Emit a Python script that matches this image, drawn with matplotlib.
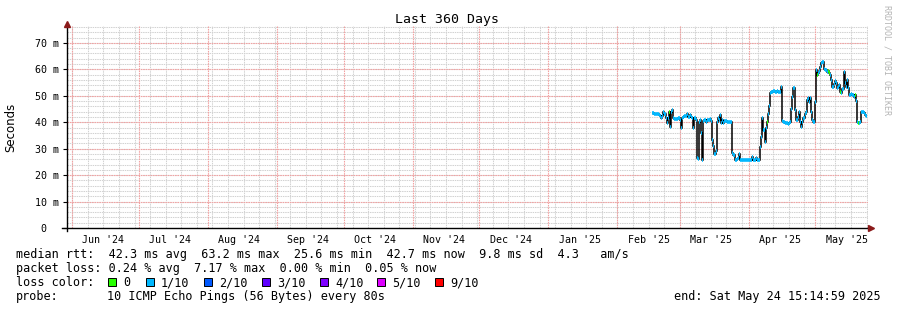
import matplotlib
matplotlib.use("Agg")
import matplotlib.pyplot as plt
import matplotlib.dates as mdates
from matplotlib.patches import Rectangle
import numpy as np
import pandas as pd

# chart window (360 days ending at the "end:" stamp)
win_start = "2024-05-29 15:15"
win_end = "2025-05-24 15:15"

# median rtt (ms), one value per 12 hours from series_start
series_start = "2025-02-16 15:15"
median_ms = [
    43.4, 43.4, 43.2, 43.0, 43.2, 43.0, 42.8, 42.5, 41.7, 42.5,
    44.0, 43.0, 41.7, 39.6, 41.5, 44.0, 38.3, 44.0, 44.6, 41.5,
    41.3, 41.3, 41.3, 41.5, 41.7, 41.0, 37.7, 41.5, 41.8, 42.2,
    42.5, 43.1, 42.0, 41.8, 42.9, 41.8, 41.5, 37.7, 41.5, 41.0,
    26.4, 26.0, 40.2, 40.8, 35.8, 25.7, 40.5, 40.8, 40.2, 40.8,
    41.0, 41.0, 41.3, 40.5, 33.3, 31.0, 27.9, 29.0, 40.2, 41.5,
    41.0, 42.9, 39.6, 41.0, 39.6, 40.6, 40.6, 40.2, 40.2, 40.2,
    40.2, 40.0, 28.3, 27.6, 25.7, 25.9, 26.0, 26.5, 28.0, 25.7,
    25.7, 25.8, 25.6, 25.7, 25.7, 25.8, 25.7, 25.6, 25.7, 25.7,
    26.7, 25.7, 25.9, 26.4, 25.8, 25.7, 25.7, 30.8, 34.5, 41.5,
    37.0, 32.6, 38.0, 40.2, 43.0, 46.0, 51.0, 51.6, 51.6, 51.8,
    51.5, 51.6, 51.7, 51.5, 51.4, 51.6, 53.5, 40.4, 40.0, 39.6,
    39.6, 39.8, 39.4, 39.6, 40.2, 45.0, 49.7, 52.9, 44.6, 40.9,
    40.9, 42.0, 44.0, 40.2, 38.3, 40.0, 41.5, 43.0, 44.0, 48.4,
    49.1, 47.8, 49.1, 44.0, 40.9, 40.2, 47.8, 59.8, 57.9, 58.5,
    59.3, 61.0, 62.5, 62.9, 60.3, 59.8, 59.8, 59.1, 59.3, 58.8,
    57.9, 56.0, 53.5, 54.5, 55.4, 55.0, 52.9, 53.5, 54.1, 51.6,
    51.2, 52.5, 59.1, 55.0, 53.5, 56.0, 52.9, 50.3, 50.3, 50.6,
    50.4, 49.7, 50.3, 48.0, 40.2, 39.6, 39.6, 40.2, 44.0, 43.8,
    43.4, 42.6, 42.4,
]
# steps with no loss (all the others are at 1/10)
zero_loss_steps = [15, 103, 148, 158, 159, 169, 182, 185]

loss_labels = ["0", "1/10", "2/10", "3/10", "4/10", "5/10", "9/10"]
loss_colors = ["#26ff00", "#00b8ff", "#0059ff", "#5e00ff", "#7e00ff", "#dd00ff", "#ff0000"]

month_labels = ["Jun '24", "Jul '24", "Aug '24", "Sep '24", "Oct '24", "Nov '24",
                "Dec '24", "Jan '25", "Feb '25", "Mar '25", "Apr '25", "May '25"]

rtt_line = "median rtt:  42.3 ms avg  63.2 ms max  25.6 ms min  42.7 ms now  9.8 ms sd  4.3   am/s"
loss_line = "packet loss: 0.24 % avg  7.17 % max  0.00 % min  0.05 % now"
probe_text = "10 ICMP Echo Pings (56 Bytes) every 80s"
end_text = "end: Sat May 24 15:14:59 2025"

MONO = "DejaVu Sans Mono"
W, H = 897, 310


def fx(px):
    return px / W


def fy(py):
    return 1 - py / H


fig = plt.figure(figsize=(W / 100, H / 100), dpi=100)
fig.patch.set_facecolor("white")
ax = fig.add_axes([fx(67), fy(228), fx(801), 202.3 / H])

t0 = mdates.date2num(pd.Timestamp(win_start))
t1 = mdates.date2num(pd.Timestamp(win_end))
ax.set_xlim(t0, t1)
ax.set_ylim(0, 0.0765)

# grid
dots = (0, (1.4, 0.8))
month_starts = pd.date_range("2024-06-01", "2025-05-01", freq="MS")
weeks = pd.date_range("2024-06-01", "2025-05-24", freq="7D")
for d in weeks:
    ax.axvline(mdates.date2num(d), color="#d2d2d2", lw=0.75, ls=dots, zorder=1)
for v in np.arange(0.002, 0.0765, 0.002):
    ax.axhline(v, color="#d2d2d2", lw=0.75, ls=dots, zorder=1)
for d in month_starts:
    ax.axvline(mdates.date2num(d), color="#f2a2a2", lw=0.8, ls=dots, zorder=1.5)
for v in np.arange(0.01, 0.071, 0.01):
    ax.axhline(v, color="#f2a2a2", lw=0.8, ls=dots, zorder=1.5)

# median line, colored by loss
n = len(median_ms)
edges = mdates.date2num(pd.date_range(series_start, periods=n + 1, freq="12h"))
vals = np.array(median_ms) / 1000.0
ax.stairs(vals, edges, baseline=None, color="black", lw=1.1, zorder=3)
cols = [loss_colors[0] if i in zero_loss_steps else loss_colors[1] for i in range(n)]
ax.hlines(vals, edges[:-1], edges[1:], colors=cols, lw=2.6, zorder=4, capstyle="butt")

# axes
for s in ax.spines.values():
    s.set_visible(False)
ax.plot([-5 / 801, 1.0], [0, 0], transform=ax.transAxes, color="black", lw=1.0,
        clip_on=False, zorder=5)
ax.plot([0, 0], [-3 / 202.3, 1.0], transform=ax.transAxes, color="black", lw=1.0,
        clip_on=False, zorder=5)
ax.plot([1.004], [0], transform=ax.transAxes, marker=">", color="#8b1a1a", ms=5,
        clip_on=False, zorder=6)
ax.plot([0], [1.01], transform=ax.transAxes, marker="^", color="#8b1a1a", ms=5,
        clip_on=False, zorder=6)

yt = np.arange(0, 0.071, 0.01)
ax.set_yticks(yt)
ax.set_yticklabels(["0  "] + [f"{int(round(v * 1000))} m" for v in yt[1:]],
                   fontfamily=MONO, fontsize=7.2)
ax.tick_params(axis="y", length=3, width=0.8, pad=2.5)

mid = [mdates.date2num(d + pd.Timedelta(days=14)) for d in month_starts]
ax.set_xticks(mid)
ax.set_xticklabels(month_labels, fontfamily=MONO, fontsize=7.2)
ax.tick_params(axis="x", length=0, pad=5)

ax.set_facecolor("white")

# texts
fig.text(fx(447), fy(23.5), "Last 360 Days", fontfamily=MONO, fontsize=9.5,
         ha="center", va="baseline")
fig.text(fx(11), fy(127), "Seconds", fontfamily="DejaVu Sans", fontsize=8.5,
         rotation=90, ha="center", va="center")
fig.text(fx(887), fy(5), "RRDTOOL / TOBI OETIKER", fontfamily=MONO, fontsize=6,
         rotation=270, ha="center", va="top", color="#b4b4b4")

fig.text(fx(16), fy(258), rtt_line, fontfamily=MONO, fontsize=8.5, va="baseline")
fig.text(fx(16), fy(272), loss_line, fontfamily=MONO, fontsize=8.5, va="baseline")
fig.text(fx(16), fy(286), "loss color:", fontfamily=MONO, fontsize=8.5, va="baseline")
box_x = [108, 146, 204, 262, 320, 377, 435]
for bx, lab, c in zip(box_x, loss_labels, loss_colors):
    fig.patches.append(Rectangle((fx(bx), fy(286)), fx(8), 8 / H, transform=fig.transFigure,
                                 facecolor=c, edgecolor="black", lw=0.7))
    fig.text(fx(bx + 15), fy(286), lab, fontfamily=MONO, fontsize=8.5, va="baseline")
fig.text(fx(16), fy(300), "probe:", fontfamily=MONO, fontsize=8.5, va="baseline")
fig.text(fx(107), fy(300), probe_text, fontfamily=MONO, fontsize=8.5, va="baseline")
fig.text(fx(881), fy(300), end_text, fontfamily=MONO, fontsize=8.5, va="baseline", ha="right")

fig.savefig("out.png", dpi=100, facecolor="white")
